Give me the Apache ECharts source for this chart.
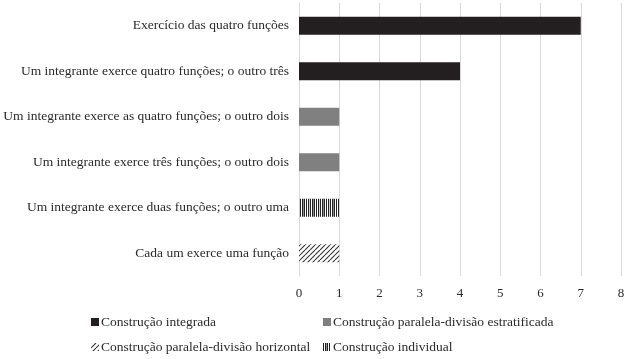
<!DOCTYPE html>
<html><head><meta charset="utf-8">
<script src="https://cdn.jsdelivr.net/npm/echarts@6/dist/echarts.min.js"></script>
<style>html,body{margin:0;padding:0;background:#fff}#c{width:632px;height:359px}</style>
</head><body><div id="c"></div>
<script>
const categories = [
  'Exercício das quatro funções',
  'Um integrante exerce quatro funções; o outro três',
  'Um integrante exerce as quatro funções; o outro dois',
  'Um integrante exerce três funções; o outro dois',
  'Um integrante exerce duas funções; o outro uma',
  'Cada um exerce uma função'
];
const seriesNames = [
  'Construção integrada',
  'Construção paralela-divisão estratificada',
  'Construção paralela-divisão horizontal',
  'Construção individual'
];
const integrada = [7, 4, 0, 0, 0, 0];
const estratificada = [0, 0, 1, 1, 0, 0];
const horizontal = [0, 0, 0, 0, 0, 1];
const individual = [0, 0, 0, 0, 1, 0];
const xTicks = [0, 1, 2, 3, 4, 5, 6, 7, 8];

function hatchPattern() {
  const c = document.createElement('canvas');
  c.width = 5; c.height = 5;
  const g = c.getContext('2d');
  g.fillStyle = '#fff'; g.fillRect(0, 0, 5, 5);
  g.strokeStyle = '#333'; g.lineWidth = 1.1;
  for (let k = -5; k <= 10; k += 5) {
    g.beginPath(); g.moveTo(k, 5); g.lineTo(k + 5, 0); g.stroke();
  }
  return c;
}
function vlinePattern() {
  const c = document.createElement('canvas');
  c.width = 10; c.height = 4;
  const g = c.getContext('2d');
  g.fillStyle = '#fff'; g.fillRect(0, 0, 10, 4);
  g.fillStyle = '#222';
  [[0,1],[2,1],[3.5,1.5],[6,1],[8,1.2]].forEach(([x,w]) => g.fillRect(x, 0, w, 4));
  return c;
}
const colors = ['#231f20', '#808080', {image: hatchPattern(), repeat: 'repeat'}, {image: vlinePattern(), repeat: 'repeat'}];
const dataSets = [integrada, estratificada, horizontal, individual];

const font = 'Liberation Serif';
const txt = '#2b2b2b';
const chart = echarts.init(document.getElementById('c'));
const legendPos = [[86, 310], [318, 310], [86, 335], [318, 335]];
chart.setOption({
  animation: false,
  textStyle: {fontFamily: font},
  grid: {left: 299, right: 11, top: 3, bottom: 83, containLabel: false},
  xAxis: {
    type: 'value', min: 0, max: 8, interval: 1,
    axisLine: {show: false}, axisTick: {show: false},
    splitLine: {show: true, lineStyle: {color: '#d9d9d9', width: 1}},
    axisLabel: {color: txt, fontSize: 13, fontFamily: font, margin: 11,
      formatter: v => xTicks.includes(v) ? String(v) : ''}
  },
  yAxis: {
    type: 'category', data: categories, inverse: true,
    axisLine: {show: true, lineStyle: {color: '#d9d9d9'}}, axisTick: {show: false},
    axisLabel: {color: txt, fontSize: 13.5, fontFamily: font, margin: 10}
  },
  legend: seriesNames.map((n, i) => ({
    data: [n], left: legendPos[i][0], top: legendPos[i][1],
    itemWidth: 8, itemHeight: 8, itemGap: 4,
    icon: 'rect', textStyle: {color: txt, fontSize: 13.5, fontFamily: font, padding: [0,0,0,-3]}
  })),
  series: seriesNames.map((n, i) => ({
    name: n, type: 'bar', stack: 'all', barWidth: 18,
    data: dataSets[i],
    itemStyle: {color: colors[i]}
  }))
});
</script></body></html>
